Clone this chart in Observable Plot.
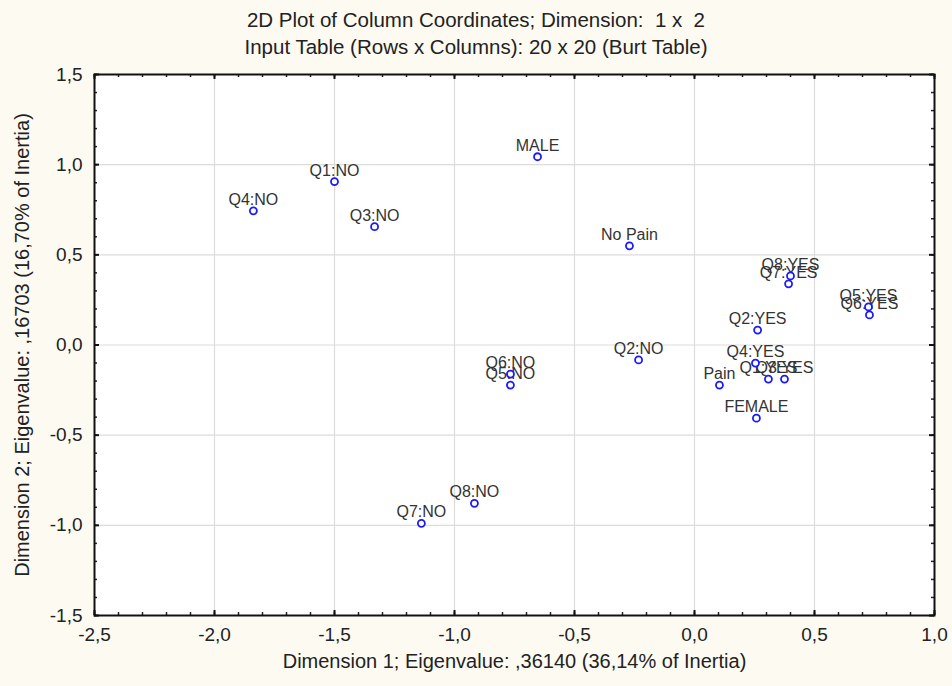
<!DOCTYPE html>
<html><head><meta charset="utf-8">
<script src="https://cdn.jsdelivr.net/npm/d3@7"></script>
<script src="https://cdn.jsdelivr.net/npm/@observablehq/plot@0.6"></script>
<style>
body{margin:0;background:#fdfaf2;font-family:"Liberation Sans",Arial,sans-serif;}
#title{height:64px;text-align:center;color:#222;font-size:20.5px;line-height:27px;padding-top:6px;box-sizing:border-box;}
#chart svg{display:block;}
</style></head><body>
<div id="title"><div>2D Plot of Column Coordinates; Dimension:&nbsp; 1 x&nbsp; 2</div><div>Input Table (Rows x Columns): 20 x 20 (Burt Table)</div></div>
<div id="chart"></div>
<script>
const labels = ["MALE","Q1:NO","Q4:NO","Q3:NO","No Pain","Q8:YES","Q7:YES","Q5:YES","Q6:YES","Q2:YES","Q4:YES","Q1:YES","Q3:YES","Pain","FEMALE","Q2:NO","Q6:NO","Q5:NO","Q8:NO","Q7:NO"];
const dim1 = [-0.654,-1.500,-1.838,-1.333,-0.271,0.400,0.392,0.725,0.729,0.263,0.254,0.308,0.375,0.104,0.258,-0.233,-0.767,-0.767,-0.917,-1.138];
const dim2 = [1.044,0.906,0.744,0.656,0.550,0.383,0.339,0.211,0.167,0.083,-0.100,-0.189,-0.189,-0.222,-0.406,-0.083,-0.161,-0.222,-0.878,-0.989];
const xTicks = [-2.5,-2.0,-1.5,-1.0,-0.5,0.0,0.5,1.0];
const yTicks = [-1.5,-1.0,-0.5,0.0,0.5,1.0,1.5];
const xTitle = "Dimension 1; Eigenvalue: ,36140 (36,14% of Inertia)";
const yTitle = "Dimension 2; Eigenvalue: ,16703 (16,70% of Inertia)";

const data = labels.map((l,i)=>({label:l, x:dim1[i], y:dim2[i]}));
const xMinor = d3.range(-25, 11).map(d=>d/10);
const yMinor = d3.range(-15, 16).map(d=>d/10);
const fmt = d => d.toFixed(1).replace(".", ",");

const W = 952, H = 622, mT = 10, mB = 71, mL = 94, mR = 18;
const iw = W - mL - mR, ih = H - mT - mB;

const chart = Plot.plot({
  width: W, height: H,
  marginTop: mT, marginBottom: mB, marginLeft: mL, marginRight: mR,
  style: {background: "#fdfaf2", fontFamily: "Liberation Sans, Arial, sans-serif", color: "#222"},
  x: {domain: [-2.5, 1.0]},
  y: {domain: [-1.5, 1.5]},
  marks: [
    Plot.frame({fill: "white", stroke: "none"}),
    Plot.ruleX(xTicks.slice(1, -1), {stroke: "#dcdcdc", strokeWidth: 1.2}),
    Plot.ruleY(yTicks.slice(1, -1), {stroke: "#dcdcdc", strokeWidth: 1.2}),
    // minor ticks (inward) on all four sides
    Plot.tickX(xMinor, {x: d=>d, insetTop: ih - 3, stroke: "#222", strokeWidth: 1.5}),
    Plot.tickX(xMinor, {x: d=>d, insetBottom: ih - 3, stroke: "#222", strokeWidth: 1.5}),
    Plot.tickY(yMinor, {y: d=>d, insetRight: iw - 3, stroke: "#222", strokeWidth: 1.5}),
    Plot.tickY(yMinor, {y: d=>d, insetLeft: iw - 3, stroke: "#222", strokeWidth: 1.5}),
    // major ticks
    Plot.tickX(xTicks, {x: d=>d, insetTop: ih - 5, stroke: "#111", strokeWidth: 2}),
    Plot.tickX(xTicks, {x: d=>d, insetBottom: ih - 5, stroke: "#111", strokeWidth: 2}),
    Plot.tickY(yTicks, {y: d=>d, insetRight: iw - 5, stroke: "#111", strokeWidth: 2}),
    Plot.tickY(yTicks, {y: d=>d, insetLeft: iw - 5, stroke: "#111", strokeWidth: 2}),
    Plot.frame({stroke: "#111", strokeWidth: 2}),
    Plot.axisX({ticks: xTicks, tickSize: 0, tickPadding: 12, fontSize: 19, tickFormat: fmt, label: null, fill: "#222"}),
    Plot.axisY({ticks: yTicks, tickSize: 0, tickPadding: 12, fontSize: 19, tickFormat: fmt, label: null, fill: "#222"}),
    Plot.text([xTitle], {frameAnchor: "bottom", dy: 52, fontSize: 20, fill: "#222", text: d=>d}),
    Plot.text([yTitle], {frameAnchor: "left", textAnchor: "middle", dx: -72, rotate: -90, fontSize: 20, fill: "#222", text: d=>d}),
    Plot.text(data, {x: "x", y: "y", text: "label", dy: -11, fontSize: 16, fill: "#333"}),
    Plot.dot(data, {x: "x", y: "y", r: 3.5, stroke: "#1a1aff", fill: "white", strokeWidth: 1.8})
  ]
});
document.getElementById("chart").appendChild(chart);
</script>
</body></html>
